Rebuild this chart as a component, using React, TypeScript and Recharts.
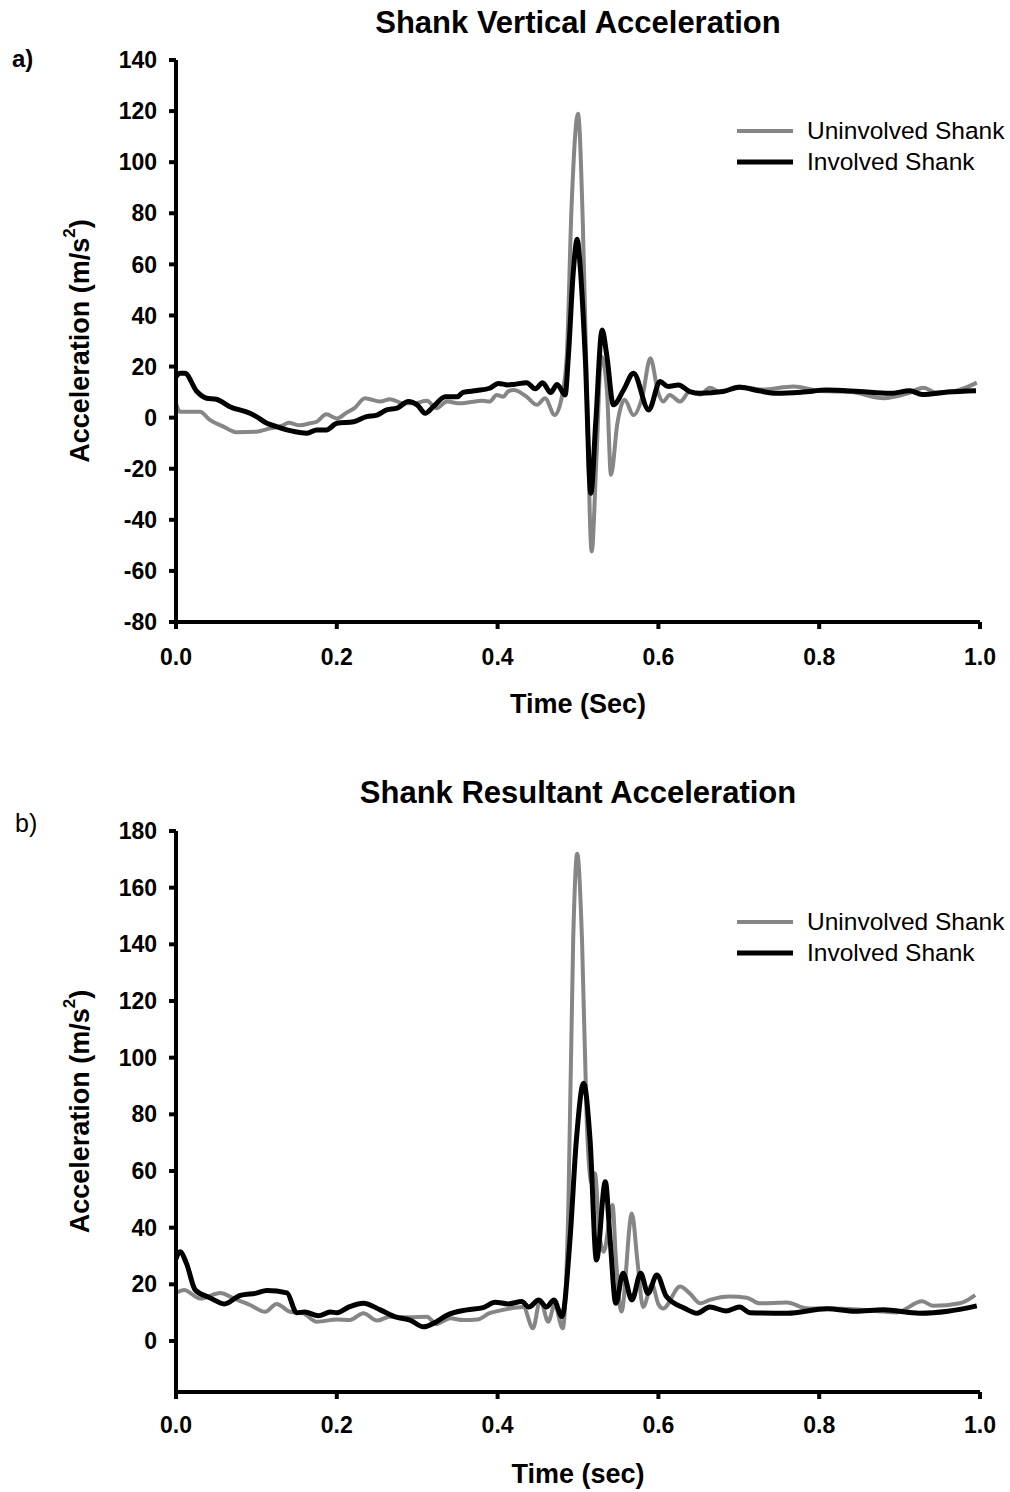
import React from "react";
import { LineChart, Line, XAxis, YAxis, Legend } from "recharts";

// ---- a) Shank vertical acceleration ----
const vertUninvTime = [0, 0.005, 0.03, 0.042, 0.059, 0.075, 0.1, 0.117, 0.133, 0.14, 0.154, 0.167, 0.175, 0.187, 0.2, 0.212, 0.222, 0.235, 0.254, 0.266, 0.283, 0.295, 0.312, 0.324, 0.337, 0.353, 0.382, 0.39, 0.399, 0.407, 0.413, 0.42, 0.436, 0.449, 0.459, 0.471, 0.48, 0.486, 0.492, 0.5, 0.506, 0.511, 0.517, 0.523, 0.529, 0.536, 0.541, 0.549, 0.558, 0.569, 0.58, 0.59, 0.6, 0.606, 0.614, 0.627, 0.639, 0.652, 0.664, 0.677, 0.7, 0.73, 0.768, 0.8, 0.84, 0.88, 0.91, 0.93, 0.945, 0.97, 0.996];
const vertUninvVal = [5.6, 2.3, 2.3, -0.9, -3.5, -5.7, -5.5, -4.2, -3, -2, -3, -2.2, -1.6, 1.3, -0.3, 1.9, 3.7, 7.6, 6.3, 7.2, 5.6, 5.6, 6.6, 3.7, 6.3, 5.6, 6.6, 6.3, 8.9, 8.2, 10.2, 10.8, 8.2, 5, 7.6, 1.0, 8.2, 24, 82.6, 119, 76, 10.8, -52.4, -15.2, 24, 10.8, -22.4, -2.2, 7, 1.0, 8.2, 23.2, 9.5, 6.3, 8.9, 6.3, 10.2, 9.1, 11.7, 10, 12.2, 11, 12.2, 10.5, 10, 7.6, 9.5, 11.7, 9.8, 10.5, 13.7];

const vertInvTime = [0, 0.005, 0.011, 0.026, 0.038, 0.05, 0.067, 0.092, 0.1, 0.113, 0.125, 0.142, 0.163, 0.175, 0.187, 0.2, 0.221, 0.237, 0.25, 0.262, 0.275, 0.289, 0.3, 0.31, 0.32, 0.335, 0.35, 0.357, 0.374, 0.39, 0.401, 0.413, 0.42, 0.436, 0.447, 0.456, 0.466, 0.474, 0.484, 0.488, 0.494, 0.499, 0.502, 0.509, 0.516, 0.522, 0.53, 0.536, 0.544, 0.557, 0.569, 0.588, 0.602, 0.612, 0.625, 0.639, 0.652, 0.68, 0.701, 0.725, 0.747, 0.78, 0.809, 0.85, 0.888, 0.913, 0.928, 0.96, 0.995];
const vertInvVal = [16, 17.4, 17.4, 10.2, 7.6, 7.2, 4.3, 1.7, 0.4, -2.2, -3.5, -5.1, -6.1, -4.8, -4.8, -2.2, -1.6, 0.4, 1.0, 3.0, 3.7, 6.3, 5, 1.7, 4.3, 8.2, 8.2, 9.9, 10.6, 11.5, 13.4, 12.8, 13, 13.7, 11.3, 13.7, 9.8, 13, 8.9, 23.9, 56.5, 69.8, 62, 24, -29.6, -2.2, 34.3, 23.9, 5, 11, 17.4, 3, 14.1, 12.2, 12.8, 10.2, 9.5, 10.2, 11.9, 10.5, 9.5, 10, 10.8, 10.2, 9.5, 10.5, 9.1, 10, 10.5];

const vertTicks = [-80, -60, -40, -20, 0, 20, 40, 60, 80, 100, 120, 140];

// ---- b) Shank resultant acceleration ----
const resUninvTime = [0, 0.01, 0.03, 0.055, 0.072, 0.092, 0.111, 0.125, 0.142, 0.158, 0.175, 0.2, 0.216, 0.233, 0.25, 0.266, 0.29, 0.312, 0.324, 0.341, 0.357, 0.375, 0.39, 0.407, 0.432, 0.444, 0.453, 0.463, 0.471, 0.481, 0.488, 0.494, 0.499, 0.505, 0.511, 0.517, 0.521, 0.527, 0.532, 0.543, 0.547, 0.554, 0.567, 0.574, 0.581, 0.592, 0.6, 0.606, 0.627, 0.639, 0.652, 0.664, 0.689, 0.71, 0.726, 0.76, 0.784, 0.838, 0.896, 0.928, 0.942, 0.975, 0.994];
const resUninvVal = [17, 18, 15, 16.9, 15, 12.7, 10.3, 13.1, 10.3, 9.8, 6.8, 7.6, 7.4, 9.8, 7.2, 8.6, 8.4, 8.6, 6, 8, 7.4, 7.6, 9.8, 11, 12, 4.5, 14.5, 6.8, 12.8, 4.5, 47.4, 141.5, 172, 141.5, 76.8, 55.7, 59.2, 36.8, 31.5, 48, 29.8, 10.4, 45, 28, 12, 20, 13, 11.5, 19.2, 16.8, 13.3, 14.5, 15.7, 15.3, 13.3, 13.6, 11.6, 11.3, 10.1, 14, 12.4, 13.3, 16.2];

const resInvTime = [0, 0.005, 0.013, 0.024, 0.042, 0.06, 0.08, 0.1, 0.113, 0.138, 0.15, 0.16, 0.177, 0.192, 0.2, 0.216, 0.233, 0.254, 0.274, 0.291, 0.308, 0.324, 0.337, 0.362, 0.382, 0.397, 0.413, 0.43, 0.439, 0.451, 0.461, 0.47, 0.48, 0.49, 0.498, 0.507, 0.515, 0.523, 0.534, 0.54, 0.547, 0.556, 0.567, 0.578, 0.587, 0.598, 0.61, 0.633, 0.648, 0.664, 0.684, 0.701, 0.714, 0.76, 0.81, 0.845, 0.88, 0.925, 0.96, 0.996];
const resInvVal = [29, 31.5, 27.4, 18, 15.3, 13.1, 16.1, 16.9, 17.8, 17, 10, 10.2, 8.9, 10.2, 10, 12.1, 13.3, 11, 8.4, 7.4, 5, 6.8, 9.1, 11, 11.8, 13.7, 13.1, 13.9, 12, 14.5, 12, 14.5, 8.6, 35.6, 71, 91, 71, 28.6, 56.2, 35.6, 13.3, 23.9, 14.5, 23.9, 16.8, 23.3, 15.7, 11.5, 9.8, 12, 10.6, 12, 10, 9.8, 11.4, 10.5, 11, 9.8, 10.5, 12.4];

const resTicks = [0, 20, 40, 60, 80, 100, 120, 140, 160, 180];
const timeTicks = [0, 0.2, 0.4, 0.6, 0.8, 1.0];

const pairs = (ts: number[], vs: number[]) => ts.map((t, i) => ({ t, v: vs[i] }));

const FONT = "'Liberation Sans', Arial, sans-serif";
const GRAY = "#868686";

function YLabel({ viewBox }: any) {
  const cx = 80;
  const cy = viewBox.y + viewBox.height / 2;
  return (
    <text
      x={cx}
      y={cy}
      transform={`rotate(-90, ${cx}, ${cy})`}
      textAnchor="middle"
      dominantBaseline="central"
      fontFamily={FONT}
      fontWeight="bold"
      fontSize={27}
      fill="#000"
    >
      Acceleration (m/s
      <tspan dy={-11} fontSize={17}>2</tspan>
      <tspan dy={11}>)</tspan>
    </text>
  );
}

function LegendBox({ payload }: any) {
  // uninvolved first, as in the original
  const items = [...(payload || [])].sort((a: any, b: any) =>
    a.value.startsWith("Un") === b.value.startsWith("Un") ? 0 : a.value.startsWith("Un") ? -1 : 1
  );
  return (
    <div style={{ fontFamily: FONT, fontSize: 24.5 }}>
      {items.map((p: any) => (
        <div key={p.value} style={{ display: "flex", alignItems: "center", height: 31 }}>
          <svg width={70} height={10}>
            <line x1={0} y1={5} x2={56} y2={5} stroke={p.color} strokeWidth={p.value.startsWith("Un") ? 4 : 5} />
          </svg>
          <span>{p.value}</span>
        </div>
      ))}
    </div>
  );
}

type PanelProps = {
  top: number;
  height: number;
  marginTop: number;
  marginBottom: number;
  domain: [number, number];
  yTicks: number[];
  uninv: { t: number; v: number }[];
  inv: { t: number; v: number }[];
  xLabel: string;
  xTickMargin: number;
  legendTop: number;
};

function Panel(p: PanelProps) {
  return (
    <div style={{ position: "absolute", left: 0, top: p.top }}>
      <LineChart
        width={1010}
        height={p.height}
        margin={{ top: p.marginTop, right: 30, left: 0, bottom: p.marginBottom }}
      >
        <XAxis
          type="number"
          dataKey="t"
          domain={[0, 1]}
          ticks={timeTicks}
          tickFormatter={(v: number) => v.toFixed(1)}
          axisLine={{ stroke: "#000", strokeWidth: 4 }}
          tickLine={{ stroke: "#000", strokeWidth: 4 }}
          tickSize={7}
          tickMargin={p.xTickMargin}
          tick={{ fill: "#000", fontSize: 23, fontWeight: "bold", fontFamily: FONT }}
          height={30}
          allowDataOverflow
          label={{
            value: p.xLabel,
            position: "bottom",
            offset: 42,
            fill: "#000",
            fontSize: 27,
            fontWeight: "bold",
            fontFamily: FONT,
          }}
        />
        <YAxis
          type="number"
          domain={p.domain}
          ticks={p.yTicks}
          width={176}
          axisLine={{ stroke: "#000", strokeWidth: 4 }}
          tickLine={{ stroke: "#000", strokeWidth: 4 }}
          tickSize={7}
          tickMargin={12}
          tick={{ fill: "#000", fontSize: 23, fontWeight: "bold", fontFamily: FONT }}
          interval={0}
          allowDataOverflow
          label={<YLabel />}
        />
        <Legend
          layout="horizontal"
          align="center"
          verticalAlign="middle"
          wrapperStyle={{ top: p.legendTop, left: 737, width: 280 }}
          content={<LegendBox />}
        />
        <Line
          data={p.uninv}
          dataKey="v"
          name="Uninvolved Shank"
          type="monotone"
          stroke={GRAY}
          strokeWidth={4}
          dot={false}
          isAnimationActive={false}
        />
        <Line
          data={p.inv}
          dataKey="v"
          name="Involved Shank"
          type="monotone"
          stroke="#000"
          strokeWidth={5}
          dot={false}
          isAnimationActive={false}
        />
      </LineChart>
    </div>
  );
}

const titleStyle: React.CSSProperties = {
  position: "absolute",
  left: 176,
  width: 804,
  textAlign: "center",
  fontFamily: FONT,
  fontWeight: "bold",
  fontSize: 31,
  lineHeight: "34px",
};

export default function App() {
  return (
    <div style={{ position: "absolute", left: 0, top: 0, width: 1010, height: 1492, background: "#fff" }}>
      <div style={{ ...titleStyle, top: 6 }}>Shank Vertical Acceleration</div>
      <div style={{ position: "absolute", left: 12, top: 45, fontFamily: FONT, fontWeight: "bold", fontSize: 24 }}>a)</div>
      <Panel
        top={0}
        height={760}
        marginTop={60}
        marginBottom={108}
        domain={[-80, 140]}
        yTicks={vertTicks}
        uninv={pairs(vertUninvTime, vertUninvVal)}
        inv={pairs(vertInvTime, vertInvVal)}
        xLabel="Time (Sec)"
        xTickMargin={20}
        legendTop={115}
      />
      <div style={{ ...titleStyle, top: 776 }}>Shank Resultant Acceleration</div>
      <div style={{ position: "absolute", left: 15, top: 809, fontFamily: FONT, fontSize: 25 }}>b)</div>
      <Panel
        top={770}
        height={722}
        marginTop={61}
        marginBottom={70}
        domain={[-18, 180]}
        yTicks={resTicks}
        uninv={pairs(resUninvTime, resUninvVal)}
        inv={pairs(resInvTime, resInvVal)}
        xLabel="Time (sec)"
        xTickMargin={18}
        legendTop={136}
      />
    </div>
  );
}
